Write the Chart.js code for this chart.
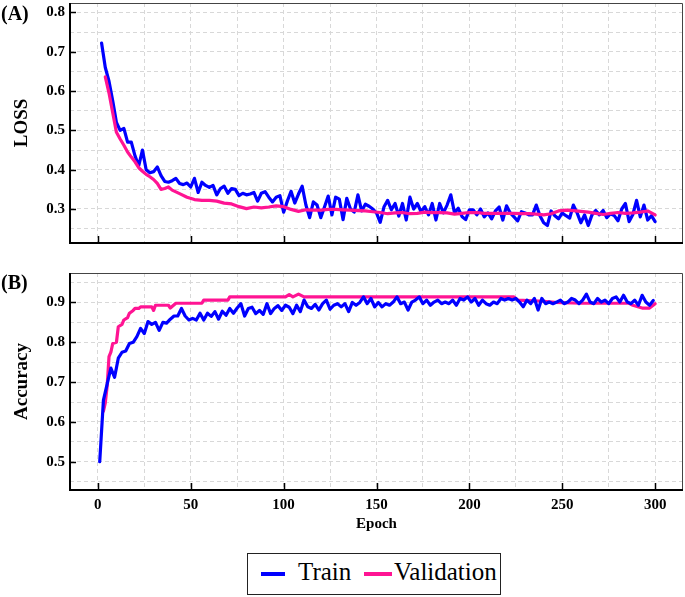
<!DOCTYPE html>
<html>
<head>
<meta charset="utf-8">
<script src="https://cdn.jsdelivr.net/npm/chart.js@4.4.1/dist/chart.umd.min.js"></script>
<style>
    body { margin: 0; background: #fff; }
    #wrap { position: relative; width: 685px; height: 597px; font-family: 'Liberation Serif', 'Times New Roman', serif; }
    canvas { position: absolute; left: 0; }
    .panel-tag { position: absolute; left: 1px; font-weight: bold; font-size: 20px; color: #000; }
    #legend { position: absolute; left: 247px; top: 553px; width: 252px; height: 40px; border: 1px solid #222; font-size: 25px; }
    #legend span { position: absolute; line-height: 25px; top: 5px; }
    #legend i { position: absolute; top: 18px; height: 4px; }
</style>
</head>
<body>
<div id="wrap">
    <canvas id="lossChart" width="685" height="252" style="top:0"></canvas>
    <canvas id="accChart" width="685" height="279" style="top:258px"></canvas>
    <div class="panel-tag" style="top:2px">(A)</div>
    <div class="panel-tag" style="top:271px">(B)</div>
    <div id="legend">
        <i style="left:13px; width:24px; background:#0000ff"></i>
        <span style="left:50px">Train</span>
        <i style="left:116px; width:28px; background:#ff1493"></i>
        <span style="left:146px">Validation</span>
    </div>
</div>
<script>
// --- Data ---
// train loss, epochs 2, 4, ... 300
const lossTrain = [
    0.722, 0.660, 0.625, 0.575, 0.520, 0.500, 0.505, 0.470, 0.470, 0.435,
    0.410, 0.450, 0.400, 0.392, 0.395, 0.407, 0.385, 0.370, 0.368, 0.372,
    0.378, 0.365, 0.362, 0.366, 0.356, 0.378, 0.342, 0.368, 0.360, 0.355,
    0.360, 0.336, 0.352, 0.358, 0.340, 0.352, 0.350, 0.334, 0.340, 0.336,
    0.338, 0.342, 0.320, 0.340, 0.344, 0.330, 0.318, 0.330, 0.334, 0.292,
    0.320, 0.345, 0.315, 0.338, 0.358, 0.310, 0.278, 0.318, 0.310, 0.278,
    0.305, 0.333, 0.285, 0.330, 0.325, 0.273, 0.327, 0.300, 0.292, 0.336,
    0.295, 0.312, 0.307, 0.300, 0.290, 0.266, 0.305, 0.322, 0.298, 0.314,
    0.282, 0.314, 0.272, 0.330, 0.300, 0.314, 0.293, 0.306, 0.285, 0.314,
    0.272, 0.314, 0.290, 0.310, 0.336, 0.290, 0.302, 0.281, 0.273, 0.298,
    0.298, 0.285, 0.300, 0.280, 0.290, 0.275, 0.295, 0.305, 0.272, 0.308,
    0.290, 0.280, 0.270, 0.293, 0.290, 0.285, 0.285, 0.310, 0.283, 0.265,
    0.258, 0.295, 0.283, 0.275, 0.290, 0.283, 0.277, 0.310, 0.290, 0.265,
    0.285, 0.258, 0.285, 0.296, 0.285, 0.296, 0.278, 0.288, 0.283, 0.270,
    0.300, 0.314, 0.268, 0.286, 0.322, 0.280, 0.310, 0.272, 0.283, 0.268
];

const lossValEpochs = [4, 6, 8, 10, 12, 14, 16, 18, 20, 22, 24, 26, 28, 30, 32, 34, 36, 38, 40,
    44, 48, 52, 56, 60, 64, 68, 72, 76, 80, 84, 88, 92, 96, 100, 104, 108, 112, 116, 120,
    124, 128, 132, 136, 140, 144, 148, 152, 156, 160, 164, 168, 172, 176, 180, 184, 188, 192,
    196, 200, 204, 208, 212, 216, 220, 224, 228, 232, 236, 240, 244, 248, 252, 256, 260, 264,
    268, 272, 276, 280, 284, 288, 292, 296, 300];
const lossVal = [0.636, 0.595, 0.545, 0.495, 0.478, 0.462, 0.445, 0.432, 0.420, 0.405,
    0.396, 0.388, 0.382, 0.375, 0.365, 0.350, 0.352, 0.356, 0.348,
    0.339, 0.330, 0.324, 0.322, 0.322, 0.320, 0.315, 0.313, 0.306, 0.301, 0.305, 0.303,
    0.305, 0.308, 0.306, 0.299, 0.294, 0.298, 0.297, 0.297, 0.299, 0.299, 0.298, 0.297,
    0.296, 0.295, 0.293, 0.291, 0.288, 0.290, 0.291, 0.288, 0.289, 0.292, 0.291, 0.291,
    0.290, 0.287, 0.289, 0.291, 0.291, 0.289, 0.289, 0.289, 0.289, 0.289, 0.288, 0.288,
    0.287, 0.285, 0.288, 0.295, 0.297, 0.296, 0.294, 0.292, 0.289, 0.286, 0.289, 0.291,
    0.289, 0.290, 0.292, 0.295, 0.285];

// train accuracy, epochs 1, 3, ... 299
const accTrain = [
    0.500, 0.655, 0.695, 0.735, 0.712, 0.760, 0.775, 0.778, 0.797, 0.800,
    0.814, 0.835, 0.822, 0.852, 0.845, 0.850, 0.830, 0.850, 0.848, 0.858,
    0.866, 0.866, 0.885, 0.866, 0.856, 0.860, 0.856, 0.873, 0.856, 0.873,
    0.865, 0.877, 0.858, 0.878, 0.868, 0.885, 0.873, 0.886, 0.897, 0.866,
    0.885, 0.888, 0.872, 0.880, 0.870, 0.897, 0.872, 0.885, 0.892, 0.880,
    0.893, 0.888, 0.872, 0.893, 0.877, 0.906, 0.889, 0.885, 0.895, 0.881,
    0.897, 0.906, 0.883, 0.893, 0.897, 0.889, 0.897, 0.877, 0.900, 0.893,
    0.900, 0.914, 0.897, 0.910, 0.889, 0.900, 0.889, 0.897, 0.893, 0.901,
    0.914, 0.897, 0.901, 0.881, 0.901, 0.906, 0.914, 0.897, 0.906, 0.893,
    0.901, 0.906, 0.897, 0.901, 0.897, 0.906, 0.893, 0.910, 0.906, 0.914,
    0.901, 0.910, 0.893, 0.906, 0.897, 0.893, 0.901, 0.897, 0.910, 0.906,
    0.910, 0.906, 0.910, 0.901, 0.889, 0.906, 0.897, 0.910, 0.881, 0.910,
    0.897, 0.901, 0.897, 0.901, 0.906, 0.897, 0.901, 0.910, 0.906, 0.897,
    0.906, 0.921, 0.901, 0.897, 0.910, 0.901, 0.906, 0.897, 0.910, 0.914,
    0.901, 0.918, 0.901, 0.897, 0.906, 0.893, 0.918, 0.901, 0.893, 0.905
];

const accValEpochs = [3, 4, 5, 6, 7, 8, 10, 11, 13, 14, 16, 17, 19, 20, 22, 23, 29, 30, 31, 38,
    39, 42, 56, 57, 70, 71, 101, 103, 105, 108, 111, 224, 226, 240, 246, 260, 286, 288, 293, 297, 300];
const accVal = [0.627, 0.648, 0.690, 0.764, 0.775, 0.797, 0.800, 0.839, 0.845, 0.856,
    0.862, 0.873, 0.880, 0.885, 0.885, 0.889, 0.889, 0.880, 0.893, 0.893,
    0.886, 0.898, 0.898, 0.906, 0.906, 0.914, 0.914, 0.920, 0.914, 0.921,
    0.914, 0.914, 0.906, 0.903, 0.900, 0.898, 0.898, 0.893, 0.886, 0.886, 0.897];

// axis ticks (grid every 25 / 0.05, labels every 50 / 0.1)
const epochTicks = [0, 25, 50, 75, 100, 125, 150, 175, 200, 225, 250, 275, 300];
const lossTicks = [0.25, 0.3, 0.35, 0.4, 0.45, 0.5, 0.55, 0.6, 0.65, 0.7, 0.75, 0.8];
const accTicks = [0.45, 0.5, 0.55, 0.6, 0.65, 0.7, 0.75, 0.8, 0.85, 0.9, 0.95];

const BLUE = '#0000ff';
const PINK = '#ff1493';
const FONT = "'Liberation Serif', 'Times New Roman', serif";

function pairs(xs, ys) {
    return ys.map((y, i) => ({ x: xs[i], y: y }));
}
function lossTrainEpochs() { return lossTrain.map((_, i) => 2 + i * 2); }
function accTrainEpochs() { return accTrain.map((_, i) => 1 + i * 2); }

const isLabelled = v => Math.abs(v * 10 - Math.round(v * 10)) < 1e-6;

// frame + inward tick marks
const framePlugin = {
    id: 'frame',
    afterDraw(chart) {
        const { ctx, chartArea: a, scales } = chart;
        ctx.save();
        ctx.setLineDash([]);
        ctx.strokeStyle = '#444';
        ctx.lineWidth = 1;
        ctx.beginPath();
        ctx.moveTo(a.left, a.top + 0.5);
        ctx.lineTo(a.right - 0.5, a.top + 0.5);
        ctx.lineTo(a.right - 0.5, a.bottom);
        ctx.stroke();

        ctx.strokeStyle = '#000';
        ctx.lineWidth = 2;
        ctx.beginPath();
        ctx.moveTo(a.left, a.top);
        ctx.lineTo(a.left, a.bottom);
        ctx.lineTo(a.right, a.bottom);
        ctx.stroke();

        ctx.lineWidth = 1.5;
        scales.y.ticks.forEach(t => {
            if (!isLabelled(t.value)) return;
            const py = Math.round(scales.y.getPixelForValue(t.value)) + 0.5;
            ctx.beginPath();
            ctx.moveTo(a.left, py);
            ctx.lineTo(a.left + 6, py);
            ctx.stroke();
        });
        scales.x.ticks.forEach(t => {
            if (t.value % 50 !== 0) return;
            const px = Math.round(scales.x.getPixelForValue(t.value)) + 0.5;
            ctx.beginPath();
            ctx.moveTo(px, a.bottom);
            ctx.lineTo(px, a.bottom - 7);
            ctx.stroke();
        });
        ctx.restore();
    }
};

function makePanel(id, datasets, yMin, yMax, yTicks, yTitle, showX, padTop, xHeight) {
    const gridStyle = { color: '#d8d8d8', lineWidth: 1, drawTicks: false };
    return new Chart(document.getElementById(id), {
        type: 'line',
        data: { datasets: datasets },
        options: {
            responsive: false,
            animation: false,
            devicePixelRatio: 1,
            layout: { padding: { left: 11, right: 2, top: padTop, bottom: 0 } },
            plugins: { legend: { display: false }, tooltip: { enabled: false } },
            elements: { point: { radius: 0 }, line: { tension: 0, borderJoinStyle: 'round', borderCapStyle: 'round' } },
            scales: {
                x: {
                    type: 'linear', min: -15, max: 315,
                    afterBuildTicks: s => { s.ticks = epochTicks.map(v => ({ value: v })); },
                    afterFit: s => { s.height = xHeight; s.paddingLeft = 0; s.paddingRight = 0; },
                    grid: gridStyle,
                    border: { display: false, dash: [4, 3] },
                    ticks: {
                        display: showX, autoSkip: false, maxRotation: 0, padding: 6, color: '#000',
                        font: { family: FONT, size: 15, weight: 'bold' },
                        callback: v => (v % 50 === 0 ? String(v) : '')
                    },
                    title: {
                        display: showX, text: 'Epoch', color: '#000',
                        font: { family: FONT, size: 15, weight: 'bold' }
                    }
                },
                y: {
                    min: yMin, max: yMax,
                    afterBuildTicks: s => { s.ticks = yTicks.map(v => ({ value: v })); },
                    afterFit: s => { s.width = 59; s.paddingTop = 0; s.paddingBottom = 0; },
                    grid: gridStyle,
                    border: { display: false, dash: [4, 3] },
                    ticks: {
                        autoSkip: false, padding: 5, color: '#000',
                        font: { family: FONT, size: 15, weight: 'bold' },
                        callback: v => (isLabelled(v) ? v.toFixed(1) : '')
                    },
                    title: {
                        display: true, text: yTitle, color: '#000', padding: 0,
                        font: { family: FONT, size: 19, weight: 'bold' }
                    }
                }
            }
        },
        plugins: [framePlugin]
    });
}

// loss panel: validation drawn on top
makePanel('lossChart', [
    { label: 'Validation', data: pairs(lossValEpochs, lossVal), borderColor: PINK, borderWidth: 3.2 },
    { label: 'Train', data: pairs(lossTrainEpochs(), lossTrain), borderColor: BLUE, borderWidth: 3.2 }
], 0.2135, 0.824, lossTicks, 'LOSS', false, 3, 9);

// accuracy panel: train drawn on top
makePanel('accChart', [
    { label: 'Train', data: pairs(accTrainEpochs(), accTrain), borderColor: BLUE, borderWidth: 3.2 },
    { label: 'Validation', data: pairs(accValEpochs, accVal), borderColor: PINK, borderWidth: 3.2 }
], 0.429, 0.974, accTicks, 'Accuracy', true, 15, 47);
</script>
</body>
</html>
